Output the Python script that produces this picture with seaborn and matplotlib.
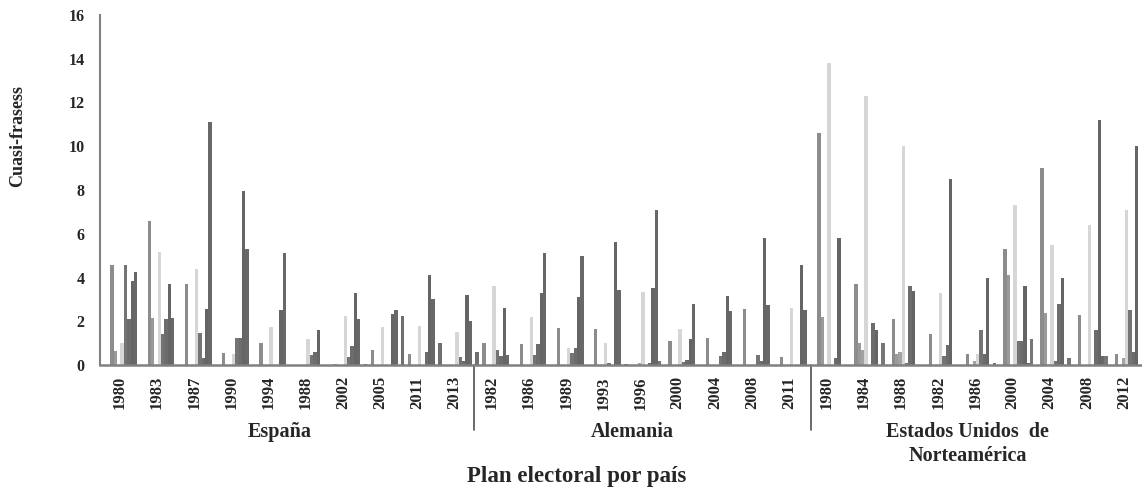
import matplotlib
matplotlib.use("Agg")
import matplotlib.pyplot as plt
import matplotlib.transforms as mtransforms
import numpy as np
import pandas as pd
import seaborn as sns

# Etiquetas del eje x (años de cada plan electoral) por país
anios_espana = ["1980", "1983", "1987", "1990", "1994", "1988", "2002", "2005", "2011", "2013"]
anios_alemania = ["1982", "1986", "1989", "1993", "1996", "2000", "2004", "2008", "2011"]
anios_eeuu = ["1980", "1984", "1988", "1982", "1986", "2000", "2004", "2008", "2012"]

# Cuasi-frases por plan: 10 series (barras) por año
espana = [
    [4.55, 0.65, 0, 1.0, 4.55, 2.1, 3.85, 4.25, 0, 0],
    [6.6, 2.15, 0, 5.15, 1.4, 2.1, 3.7, 2.15, 0, 0],
    [3.7, 0, 0, 4.4, 1.45, 0.3, 2.55, 11.1, 0, 0],
    [0.55, 0, 0, 0.5, 1.25, 1.25, 7.95, 5.3, 0, 0],
    [1.0, 0, 0, 1.75, 0, 0, 2.5, 5.1, 0, 0],
    [0, 0, 0, 1.2, 0.45, 0.6, 1.6, 0, 0, 0],
    [0.05, 0, 0, 2.25, 0.35, 0.85, 3.3, 2.1, 0, 0.05],
    [0.7, 0, 0, 1.75, 0, 0, 2.35, 2.5, 0, 2.25],
    [0.5, 0, 0, 1.8, 0, 0.6, 4.1, 3.0, 0, 1.0],
    [0, 0, 0, 1.5, 0.35, 0.2, 3.2, 2.0, 0, 0.6],
]
alemania = [
    [1.0, 0, 0, 3.6, 0.7, 0.4, 2.6, 0.45, 0, 0],
    [0.95, 0, 0, 2.2, 0.45, 0.95, 3.3, 5.1, 0, 0],
    [1.7, 0, 0, 0.8, 0.55, 0.8, 3.1, 5.0, 0, 0],
    [1.65, 0, 0, 1.0, 0.1, 0, 5.6, 3.45, 0, 0.05],
    [0, 0, 0.1, 3.35, 0, 0.1, 3.5, 7.1, 0.2, 0],
    [1.1, 0, 0, 1.65, 0.15, 0.25, 1.2, 2.8, 0, 0],
    [1.25, 0, 0, 0, 0.4, 0.6, 3.15, 2.45, 0, 0],
    [2.55, 0, 0, 0, 0.45, 0.2, 5.8, 2.75, 0, 0],
    [0.35, 0, 0, 2.6, 0, 0, 4.55, 2.5, 0, 0],
]
eeuu = [
    [10.6, 2.2, 0, 13.8, 0, 0.3, 5.8, 0, 0, 0],
    [3.7, 1.0, 0.7, 12.3, 0, 1.9, 1.6, 0, 1.0, 0],
    [2.1, 0.5, 0.6, 10.0, 0.1, 3.6, 3.4, 0, 0, 0],
    [1.4, 0, 0, 3.3, 0.4, 0.9, 8.5, 0, 0, 0],
    [0.5, 0, 0.2, 0.5, 1.6, 0.5, 4.0, 0, 0.1, 0],
    [5.3, 4.1, 0, 7.3, 1.1, 1.1, 3.6, 0.1, 1.2, 0],
    [9.0, 2.4, 0, 5.5, 0.2, 2.8, 4.0, 0, 0.3, 0],
    [2.3, 0, 0, 6.4, 0, 1.6, 11.2, 0.4, 0.4, 0],
    [0.5, 0, 0.3, 7.1, 2.5, 0.6, 10.0, 0, 0, 0],
]

series = ["S%d" % (i + 1) for i in range(10)]
grises = ["#8c8c8c", "#9a9a9a", "#a2a2a2", "#d6d6d6", "#747474",
          "#6c6c6c", "#656565", "#686868", "#777777", "#6f6f6f"]

# Tabla larga para seaborn
filas = []
for pais, anios, valores in [("España", anios_espana, espana),
                             ("Alemania", anios_alemania, alemania),
                             ("EEUU", anios_eeuu, eeuu)]:
    for anio, fila in zip(anios, valores):
        for serie, v in zip(series, fila):
            filas.append({"plan": pais + " " + anio, "serie": serie, "valor": v})
df = pd.DataFrame(filas)
orden = list(dict.fromkeys(df["plan"]))
etiquetas = anios_espana + anios_alemania + anios_eeuu

sns.set_style("white")
plt.rcParams["font.family"] = ["Liberation Serif", "DejaVu Serif"]
plt.rcParams["font.weight"] = "bold"

fig = plt.figure(figsize=(11.42, 4.91), dpi=100)
ax = fig.add_axes([0.0876, 0.2566, 0.9124, 0.7129])

sns.barplot(data=df, x="plan", y="valor", hue="serie", order=orden, hue_order=series,
            palette=grises, saturation=1, width=0.9, errorbar=None,
            legend=False, linewidth=0, ax=ax)

ax.set_xlim(-0.73, 27.28)
ax.set_ylim(0, 16)
ax.set_yticks(range(0, 17, 2))
ax.set_yticklabels([str(v) for v in range(0, 17, 2)], fontsize=11.5, fontweight="bold")
ax.set_xticks(np.arange(len(etiquetas)) - 0.2)
ax.set_xticklabels(etiquetas, rotation=90, fontsize=12, fontweight="bold")
ax.tick_params(axis="x", length=0, pad=8)
ax.tick_params(axis="y", direction="in", length=5, width=1, color="#9a9a9a", pad=11)
ax.set_xlabel("")
ax.set_ylabel("")

for lado in ["top", "right"]:
    ax.spines[lado].set_visible(False)
ax.spines["left"].set_color("#808080")
ax.spines["left"].set_linewidth(1.5)
ax.spines["bottom"].set_color("#808080")
ax.spines["bottom"].set_linewidth(1.8)

# separadores entre países y nombres de país
trans = mtransforms.blended_transform_factory(ax.transData, ax.transAxes)
for xs in [9.32, 18.38]:
    ax.plot([xs, xs], [0, -0.186], transform=trans, color="#505050", lw=1.2, clip_on=False)

ax.text(4.1, -0.163, "España", transform=trans, ha="center", va="top",
        fontsize=14.5, fontweight="bold")
ax.text(13.57, -0.163, "Alemania", transform=trans, ha="center", va="top",
        fontsize=14.5, fontweight="bold")
ax.text(22.6, -0.163, "Estados Unidos  de\nNorteamérica", transform=trans, ha="center",
        va="top", fontsize=14.5, fontweight="bold", linespacing=1.25, multialignment="center")

ax.text(12.08, -0.318, "Plan electoral por país", transform=trans, ha="center", va="center",
        fontsize=16.5, fontweight="bold")
ax.text(-0.0787, 0.654, "Cuasi-frasess", transform=ax.transAxes, rotation=90,
        ha="center", va="center", fontsize=13, fontweight="bold")

fig.savefig("out.png", dpi=100)
